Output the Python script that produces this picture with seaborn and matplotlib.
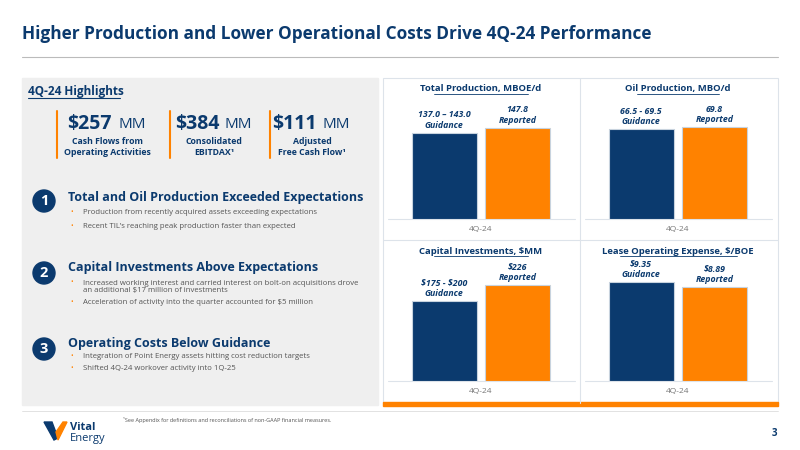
import matplotlib
matplotlib.use("Agg")
import matplotlib.pyplot as plt
import seaborn as sns
import pandas as pd
from matplotlib.patches import Rectangle, Circle, Polygon

sns.set_theme(style="white")
plt.rcParams['font.family'] = ['Open Sans', 'DejaVu Sans']
plt.rcParams['text.parse_math'] = False

NAVY = "#0B3A6E"
ORANGE = "#FF8200"
GRAY_TXT = "#555555"

periods = ["4Q-24"]
series = ["Guidance", "Reported"]
chart_titles = ["Total Production, MBOE/d", "Oil Production, MBO/d",
                "Capital Investments, $MM", "Lease Operating Expense, $/BOE"]
guidance_vals = [140.0, 68.0, 187.5, 9.35]
reported_vals = [147.8, 69.8, 226.0, 8.89]
guidance_labels = ["137.0 – 143.0", "66.5 - 69.5", "$175 - $200", "$9.35"]
reported_labels = ["147.8", "69.8", "$226", "$8.89"]

fig = plt.figure(figsize=(8, 4.5), dpi=100)
W, H = 800, 450
def fx(x): return x / W
def fy(y): return 1 - y / H

bg = fig.add_axes([0, 0, 1, 1]); bg.set_xlim(0, W); bg.set_ylim(H, 0); bg.axis("off")

bg.text(22, 34, "Higher Production and Lower Operational Costs Drive 4Q-24 Performance",
        fontsize=12.4, fontweight="bold", color=NAVY, va="center")
bg.plot([22, 778], [57, 57], color="#BBBBBB", lw=0.8)

bg.add_patch(Rectangle((22, 78), 356, 327, color="#EFEFEF", zorder=0))
bg.text(28, 91, "4Q-24 Highlights", fontsize=8.5, fontweight="bold", color=NAVY, va="center")
bg.plot([28, 120], [98, 98], color=NAVY, lw=0.8)

kpis = [("$257", "Cash Flows from\nOperating Activities", 57, 107),
        ("$384", "Consolidated\nEBITDAX¹", 170, 214),
        ("$111", "Adjusted\nFree Cash Flow¹", 270, 312)]
for big, small, x0, cx in kpis:
    bg.plot([x0, x0], [111, 158], color=ORANGE, lw=1.5)
    bg.text(cx + 5, 124, big, fontsize=14, fontweight="bold", color=NAVY, ha="right", va="center")
    bg.text(cx + 11, 125, "MM", fontsize=11, color=NAVY, ha="left", va="center")
    bg.text(cx, 147, small, fontsize=6.3, fontweight="bold", color=NAVY, ha="center", va="center", linespacing=1.4)

items = [("1", "Total and Oil Production Exceeded Expectations", 198, 201,
          ["Production from recently acquired assets exceeding expectations",
           "Recent TIL’s reaching peak production faster than expected"], [213, 226]),
         ("2", "Capital Investments Above Expectations", 267, 273,
          ["Increased working interest and carried interest on bolt-on acquisitions drove\nan additional $17 million of investments",
           "Acceleration of activity into the quarter accounted for $5 million"], [283, 303]),
         ("3", "Operating Costs Below Guidance", 343, 349,
          ["Integration of Point Energy assets hitting cost reduction targets",
           "Shifted 4Q-24 workover activity into 1Q-25"], [356, 369])]
for num, head, y, cy, bullets, bys in items:
    bg.add_patch(Circle((44, cy), 11, color=NAVY))
    bg.text(44, cy, num, fontsize=10.5, fontweight="bold", color="white", ha="center", va="center")
    bg.text(68, y, head, fontsize=9, fontweight="bold", color=NAVY, va="center")
    for b, by in zip(bullets, bys):
        bg.text(70, by, "•", fontsize=5, color=ORANGE, va="center")
        bg.text(83, by + (4 if "\n" in b else 0), b, fontsize=5.6, color=GRAY_TXT,
                va="center", linespacing=1.05)

bg.add_patch(Rectangle((383, 78), 395, 325, fill=False, ec="#DDE3EA", lw=0.8))
bg.plot([580, 580], [78, 403], color="#DDE3EA", lw=0.8)
bg.plot([383, 778], [240, 240], color="#DDE3EA", lw=0.8)
bg.add_patch(Rectangle((383, 402), 395, 4, color=ORANGE))

boxes = [(388, 95, 219), (585, 95, 219), (388, 257, 381), (585, 257, 381)]
rep_px = [91, 92, 96, 94]
title_y = [89, 89, 251, 251]
centers = [481, 678, 481, 678]
for i, ((x0, ytop, ybot), rp) in enumerate(zip(boxes, rep_px)):
    ax = fig.add_axes([fx(x0), fy(ybot), fx(187), (ybot - ytop) / H])
    df = pd.DataFrame({"s": series, "v": [guidance_vals[i], reported_vals[i]]})
    sns.barplot(data=df, x="s", y="v", hue="s", palette=[NAVY, ORANGE], width=0.89,
                saturation=1, edgecolor="#C8D3DE", linewidth=0.8, ax=ax, legend=False)
    ymax = reported_vals[i] * (ybot - ytop) / rp
    ax.set_ylim(0, ymax)
    ax.set_xlim(-0.77, 1.79)
    ax.axis("off")
    for j, (lab, val) in enumerate(zip([guidance_labels[i], reported_labels[i]], series)):
        v = df.v[j]
        ax.text(j, v + ymax * 0.025, lab + "\n" + val, ha="center", va="bottom", fontsize=6.3,
                fontweight="bold", style="italic", color=NAVY, linespacing=1.2)
    bg.plot([x0, x0 + 187], [ybot, ybot], color="#DDE3EA", lw=0.8)
    bg.text(centers[i], title_y[i], chart_titles[i], fontsize=6.8, fontweight="bold",
            color=NAVY, ha="center", va="center")
    tw = len(chart_titles[i]) * 3.9
    bg.plot([centers[i] - tw / 2, centers[i] + tw / 2], [title_y[i] + 5] * 2, color=NAVY, lw=0.6)
    bg.text(centers[i], ybot + 11, periods[0], fontsize=6, color="#777777", ha="center", va="center")

bg.plot([22, 778], [411, 411], color="#DDDDDD", lw=0.6)
bg.add_patch(Polygon([[44, 422], [52, 422], [58, 438], [54, 440]], color=NAVY))
bg.add_patch(Polygon([[56, 432], [63, 422], [67, 422], [58, 440]], color=ORANGE))
bg.text(70, 428, "Vital", fontsize=8, fontweight="bold", color=NAVY, va="center")
bg.text(70, 438, "Energy", fontsize=8, color=NAVY, va="center")
bg.text(123, 420, "¹See Appendix for definitions and reconciliations of non-GAAP financial measures.",
        fontsize=4, color=GRAY_TXT, va="center")
bg.text(774, 433, "3", fontsize=7, fontweight="bold", color=NAVY, ha="center", va="center")

fig.savefig("out.png", dpi=100)
